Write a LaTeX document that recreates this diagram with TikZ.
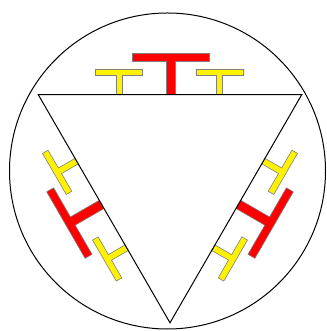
\documentclass[tikz,border=0pt]{standalone}
\begin{document}
\begin{tikzpicture}[x=1pt,y=1pt,
  redfill/.style={fill=red,draw=black!50,line width=0.6pt,line join=miter},
  yelfill/.style={fill=yellow,draw=black!50,line width=0.6pt,line join=miter},
  edge/.style={draw=black,line width=1pt,line join=miter},
  bigT/.pic={\path[redfill] (-4.75,0) -- (-4.75,33.3) -- (-38.4,33.3) -- (-38.4,41.3) -- (38.4,41.3) -- (38.4,33.3) -- (4.75,33.3) -- (4.75,0) -- cycle;},
  smallT/.pic={\path[yelfill] (-3.2,0) -- (-3.2,19.3) -- (-23.7,19.3) -- (-23.7,25.7) -- (23.7,25.7) -- (23.7,19.3) -- (3.2,19.3) -- (3.2,0) -- cycle;}]
\useasboundingbox (0,0) rectangle (326,331);
\coordinate (A) at (38.3,236.3);
\coordinate (B) at (301.7,236.3);
\coordinate (C) at (170,8.2);
\coordinate (O) at (167.5,160);
\coordinate (Mt) at (170,236.3);
\coordinate (Ml) at (104.15,122.25);
\coordinate (Mr) at (235.85,122.25);
\draw[edge] (O) circle[radius=158];
\begin{scope}[shift={(Mt)}]
  \pic at (-51,0) {smallT};
  \pic at (1,0) {bigT};
  \pic at (49.5,0) {smallT};
\end{scope}
\begin{scope}[shift={(Ml)},rotate=120,transform shape]
  \pic at (55,0) {smallT};
  \pic at (5,0) {bigT};
  \pic at (-45,0) {smallT};
\end{scope}
\begin{scope}[shift={(Mr)},rotate=-120,transform shape]
  \pic at (-55,0) {smallT};
  \pic at (-5,0) {bigT};
  \pic at (45,0) {smallT};
\end{scope}
\draw[edge] (A) -- (B) -- (C) -- cycle;
\end{tikzpicture}
\end{document}
